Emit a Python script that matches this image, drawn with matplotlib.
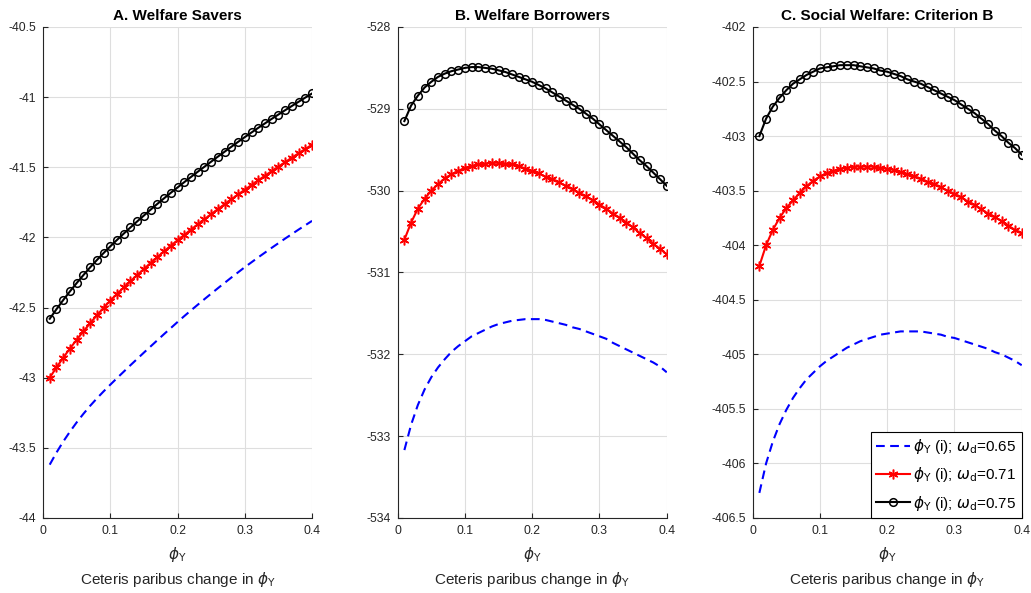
import matplotlib
matplotlib.use("Agg")
import matplotlib.pyplot as plt
from matplotlib.ticker import FuncFormatter

plt.rcParams['font.family'] = ['Liberation Sans', 'DejaVu Sans']
plt.rcParams['mathtext.fontset'] = 'dejavusans'

phi = [0.01, 0.02, 0.03, 0.04, 0.05, 0.06, 0.07, 0.08, 0.09, 0.10,
       0.11, 0.12, 0.13, 0.14, 0.15, 0.16, 0.17, 0.18, 0.19, 0.20,
       0.21, 0.22, 0.23, 0.24, 0.25, 0.26, 0.27, 0.28, 0.29, 0.30,
       0.31, 0.32, 0.33, 0.34, 0.35, 0.36, 0.37, 0.38, 0.39, 0.40]

# A. Welfare savers
savers_065 = [-43.620, -43.534, -43.456, -43.385, -43.319, -43.258, -43.201, -43.148, -43.098, -43.050,
              -43.003, -42.957, -42.911, -42.866, -42.821, -42.777, -42.733, -42.689, -42.646, -42.603,
              -42.561, -42.520, -42.480, -42.440, -42.401, -42.362, -42.324, -42.286, -42.249, -42.212,
              -42.177, -42.142, -42.108, -42.074, -42.041, -42.008, -41.976, -41.944, -41.913, -41.882]
savers_071 = [-43.000, -42.927, -42.858, -42.792, -42.730, -42.670, -42.612, -42.556, -42.502, -42.450,
              -42.403, -42.357, -42.312, -42.268, -42.225, -42.182, -42.140, -42.099, -42.059, -42.020,
              -41.982, -41.944, -41.907, -41.870, -41.834, -41.798, -41.763, -41.728, -41.694, -41.660,
              -41.626, -41.593, -41.560, -41.527, -41.495, -41.463, -41.431, -41.400, -41.369, -41.339]
savers_075 = [-42.580, -42.512, -42.447, -42.385, -42.326, -42.269, -42.214, -42.162, -42.112, -42.064,
              -42.018, -41.973, -41.929, -41.886, -41.844, -41.802, -41.761, -41.721, -41.682, -41.644,
              -41.606, -41.569, -41.532, -41.496, -41.460, -41.424, -41.389, -41.354, -41.319, -41.285,
              -41.252, -41.219, -41.187, -41.155, -41.124, -41.093, -41.063, -41.033, -41.003, -40.974]

# B. Welfare borrowers
borrow_065 = [-533.17, -532.86, -532.62, -532.43, -532.28, -532.16, -532.06, -531.97, -531.90, -531.84,
              -531.78, -531.74, -531.70, -531.66, -531.63, -531.61, -531.59, -531.58, -531.57, -531.57,
              -531.57, -531.58, -531.60, -531.62, -531.64, -531.67, -531.69, -531.72, -531.75, -531.78,
              -531.81, -531.86, -531.90, -531.94, -531.98, -532.02, -532.06, -532.10, -532.15, -532.22]
borrow_071 = [-530.60, -530.39, -530.22, -530.10, -530.00, -529.92, -529.85, -529.80, -529.76, -529.72,
              -529.70, -529.68, -529.67, -529.66, -529.66, -529.67, -529.68, -529.70, -529.73, -529.76,
              -529.79, -529.83, -529.86, -529.90, -529.94, -529.98, -530.03, -530.07, -530.12, -530.17,
              -530.22, -530.28, -530.33, -530.39, -530.45, -530.52, -530.58, -530.65, -530.71, -530.78]
borrow_075 = [-529.15, -528.96, -528.84, -528.74, -528.67, -528.61, -528.57, -528.54, -528.52, -528.50,
              -528.49, -528.49, -528.50, -528.51, -528.53, -528.55, -528.58, -528.61, -528.64, -528.67,
              -528.71, -528.75, -528.80, -528.85, -528.90, -528.95, -529.00, -529.06, -529.12, -529.19,
              -529.26, -529.33, -529.40, -529.47, -529.55, -529.63, -529.70, -529.78, -529.86, -529.94]

# C. Social welfare, criterion B
social_065 = [-406.27, -406.00, -405.80, -405.64, -405.51, -405.40, -405.31, -405.23, -405.17, -405.11,
              -405.06, -405.02, -404.98, -404.94, -404.91, -404.88, -404.86, -404.84, -404.82, -404.81,
              -404.80, -404.79, -404.79, -404.79, -404.79, -404.80, -404.81, -404.82, -404.84, -404.85,
              -404.87, -404.89, -404.91, -404.93, -404.95, -404.98, -405.00, -405.03, -405.06, -405.10]
social_071 = [-404.19, -404.00, -403.86, -403.75, -403.66, -403.59, -403.52, -403.46, -403.41, -403.37,
              -403.34, -403.32, -403.30, -403.29, -403.28, -403.28, -403.28, -403.28, -403.29, -403.30,
              -403.31, -403.33, -403.35, -403.37, -403.39, -403.42, -403.44, -403.47, -403.50, -403.53,
              -403.56, -403.60, -403.63, -403.67, -403.71, -403.74, -403.78, -403.82, -403.86, -403.89]
social_075 = [-403.00, -402.84, -402.73, -402.65, -402.58, -402.52, -402.48, -402.44, -402.41, -402.38,
              -402.37, -402.36, -402.35, -402.35, -402.35, -402.36, -402.37, -402.38, -402.40, -402.41,
              -402.43, -402.45, -402.48, -402.50, -402.52, -402.55, -402.58, -402.61, -402.64, -402.67,
              -402.71, -402.75, -402.79, -402.84, -402.89, -402.95, -403.00, -403.06, -403.11, -403.17]

titles = ['A. Welfare Savers', 'B. Welfare Borrowers', 'C. Social Welfare: Criterion B']
panels = [(savers_065, savers_071, savers_075),
          (borrow_065, borrow_071, borrow_075),
          (social_065, social_071, social_075)]
ylims = [(-44, -40.5), (-534, -528), (-406.5, -402)]
ysteps = [0.5, 1.0, 0.5]
lefts = [0.0417, 0.3857, 0.7300]

labels = [r'$\phi_\mathrm{Y}$ (i); $\omega_\mathrm{d}$=0.65',
          r'$\phi_\mathrm{Y}$ (i); $\omega_\mathrm{d}$=0.71',
          r'$\phi_\mathrm{Y}$ (i); $\omega_\mathrm{d}$=0.75']

axcol = '#262626'
fig = plt.figure(figsize=(10.31, 5.93), dpi=100)

for i in range(3):
    ax = fig.add_axes([lefts[i], 0.1265, 0.261, 0.828])
    b, r, k = panels[i]
    ax.plot(phi, b, color='b', lw=1.5, linestyle=(0, (4.2, 2.6)), label=labels[0])
    ax.plot(phi, r, color='r', lw=1.5, marker=(6, 2, 0), ms=7, mew=1.1, label=labels[1])
    ax.plot(phi, k, color='k', lw=1.5, marker='o', ms=5.5, mfc='none', mew=1.1, label=labels[2])

    lo, hi = ylims[i]
    ax.set_ylim(lo, hi)
    ax.set_xlim(0, 0.4)
    n = int(round((hi - lo) / ysteps[i]))
    ax.set_yticks([lo + j * ysteps[i] for j in range(n + 1)])
    ax.set_xticks([0, 0.1, 0.2, 0.3, 0.4])
    ax.xaxis.set_major_formatter(FuncFormatter(lambda v, p: '%g' % round(v, 3)))
    ax.yaxis.set_major_formatter(FuncFormatter(lambda v, p: '%g' % round(v, 3)))

    ax.grid(True, color='#dedede', lw=0.8)
    ax.set_axisbelow(True)
    for s in ['top', 'right']:
        ax.spines[s].set_visible(False)
    for s in ['left', 'bottom']:
        ax.spines[s].set_color(axcol)
        ax.spines[s].set_linewidth(0.8)
    ax.tick_params(direction='in', length=3.5, width=0.8, colors=axcol,
                   labelsize=8.8, pad=5)

    ax.set_title(titles[i], fontsize=11, fontweight='bold', pad=5)
    ax.set_xlabel('$\\phi_\\mathrm{Y}$\nCeteris paribus change in $\\phi_\\mathrm{Y}$',
                  fontsize=11, color=axcol, labelpad=6, linespacing=1.4)

    if i == 2:
        leg = ax.legend(loc='lower right', borderaxespad=0, fontsize=11,
                        fancybox=False, framealpha=1, edgecolor='k',
                        handlelength=2.2, handletextpad=0.2, labelspacing=0.6,
                        borderpad=0.35)
        leg.get_frame().set_linewidth(0.8)

fig.savefig('out.png', dpi=100)
